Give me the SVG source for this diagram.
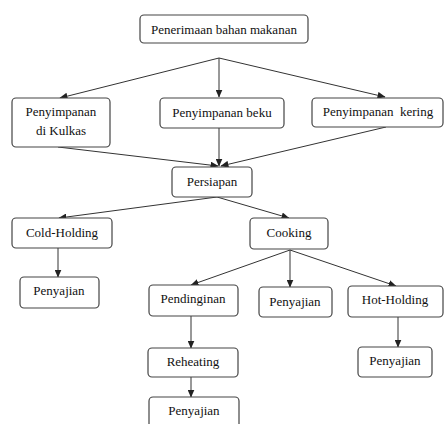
<svg xmlns="http://www.w3.org/2000/svg" width="444" height="424" viewBox="0 0 444 424">
<defs>
<style>
.box{fill:#fff;stroke:#444;stroke-width:1.2}
.t{font-family:'Liberation Serif','Times New Roman','DejaVu Serif',serif;font-size:13px;fill:#111;text-anchor:middle}
.c{stroke:#333;stroke-width:1;fill:none;marker-end:url(#ah)}
</style>
<marker id="ah" markerUnits="userSpaceOnUse" markerWidth="8" markerHeight="7" refX="7.5" refY="3.5" orient="auto">
<path d="M0,0 L8,3.5 L0,7 z" fill="#222"/>
</marker>
</defs>
<rect width="444" height="424" fill="#fff"/>
<g id="connectors">
<line class="c" x1="219" y1="58" x2="60" y2="98"/>
<line class="c" x1="219" y1="58" x2="219" y2="97"/>
<line class="c" x1="219" y1="58" x2="385" y2="97"/>
<line class="c" x1="58" y1="147" x2="218" y2="166"/>
<line class="c" x1="219" y1="128" x2="219" y2="166"/>
<line class="c" x1="386" y1="127" x2="221" y2="166"/>
<line class="c" x1="217" y1="197" x2="59" y2="218"/>
<line class="c" x1="217" y1="197" x2="289" y2="218"/>
<line class="c" x1="58" y1="248" x2="58" y2="277"/>
<line class="c" x1="290" y1="250" x2="191" y2="285"/>
<line class="c" x1="290" y1="250" x2="290" y2="287"/>
<line class="c" x1="290" y1="250" x2="396" y2="286"/>
<line class="c" x1="191" y1="316" x2="191" y2="348"/>
<line class="c" x1="191" y1="377" x2="191" y2="397"/>
<line class="c" x1="398" y1="317" x2="398" y2="347"/>
</g>
<g id="n1"><rect class="box" x="140" y="15" width="168" height="28" rx="4"/><text class="t" x="224" y="34" font-family="Liberation Serif, serif">Penerimaan bahan makanan</text></g>
<g id="n2"><rect class="box" x="12" y="98" width="98" height="49" rx="4"/><text class="t" x="61" y="116">Penyimpanan</text><text class="t" x="61" y="135">di Kulkas</text></g>
<g id="n3"><rect class="box" x="160" y="98" width="124" height="30" rx="4"/><text class="t" x="222" y="117">Penyimpanan beku</text></g>
<g id="n4"><rect class="box" x="312" y="98" width="131" height="29" rx="4"/><text class="t" x="378" y="116" xml:space="preserve">Penyimpanan  kering</text></g>
<g id="n5"><rect class="box" x="172" y="167" width="80" height="30" rx="4"/><text class="t" x="212" y="186">Persiapan</text></g>
<g id="n6"><rect class="box" x="12" y="218" width="100" height="30" rx="4"/><text class="t" x="62" y="237">Cold-Holding</text></g>
<g id="n7"><rect class="box" x="250" y="218" width="78" height="31" rx="4"/><text class="t" x="289" y="237">Cooking</text></g>
<g id="n8"><rect class="box" x="20" y="277" width="79" height="31" rx="4"/><text class="t" x="59" y="295">Penyajian</text></g>
<g id="n9"><rect class="box" x="149" y="285" width="89" height="31" rx="4"/><text class="t" x="193" y="303">Pendinginan</text></g>
<g id="n10"><rect class="box" x="259" y="287" width="73" height="30" rx="4"/><text class="t" x="295" y="306">Penyajian</text></g>
<g id="n11"><rect class="box" x="348" y="286" width="95" height="31" rx="4"/><text class="t" x="395" y="304">Hot-Holding</text></g>
<g id="n12"><rect class="box" x="148" y="348" width="90" height="29" rx="4"/><text class="t" x="193" y="366">Reheating</text></g>
<g id="n13"><rect class="box" x="358" y="347" width="74" height="30" rx="4"/><text class="t" x="395" y="365">Penyajian</text></g>
<g id="n14"><rect class="box" x="149" y="397" width="90" height="32" rx="4"/><text class="t" x="194" y="415">Penyajian</text></g>
</svg>
